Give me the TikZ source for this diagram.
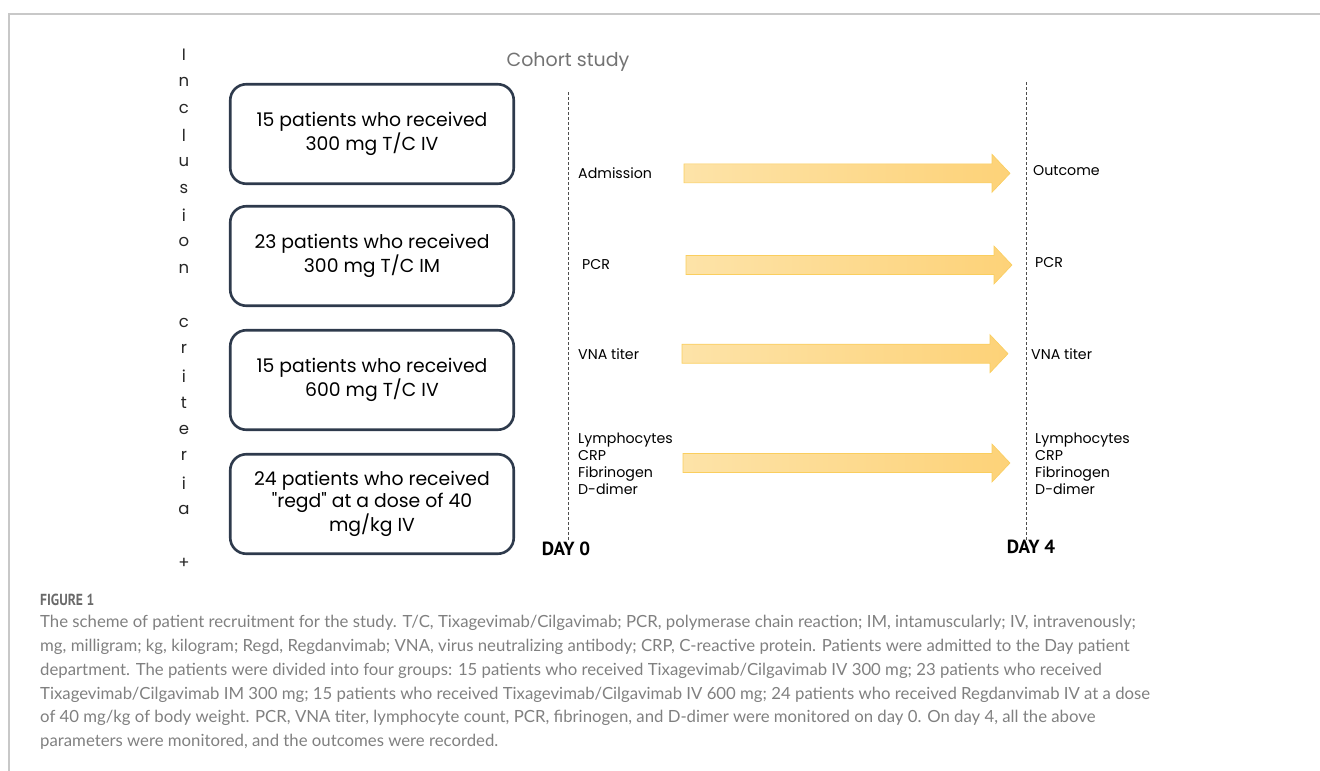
\documentclass[tikz,border=0pt]{standalone}
\usepackage{fontspec}
\setmainfont{Poppins}
\newfontfamily\capfont{Lato}
\newfontfamily\figfont[FakeStretch=0.85]{PT Sans}
\newfontfamily\dayfont{PT Sans}
\usetikzlibrary{positioning,calc}
\definecolor{boxline}{HTML}{2E3A4C}
\definecolor{arrowA}{HTML}{FDE3A8}
\definecolor{arrowB}{HTML}{FDD278}
\definecolor{arrowedge}{HTML}{FACE5E}
\definecolor{framegray}{HTML}{C8C8C8}
\definecolor{captxt}{HTML}{808080}
\definecolor{figtxt}{HTML}{6A6A6A}
\newcommand\fatarrow[2]{% shaft + head between two coordinates
  \shade[fatarrowstyle] ($(#1)+(0,-9.5)$) -- ($(#2)+(-18,-9.5)$) -- ($(#2)+(-18,-19)$)
    -- (#2) -- ($(#2)+(-18,19)$) -- ($(#2)+(-18,9.5)$) -- ($(#1)+(0,9.5)$) -- cycle;}
\begin{document}
\begin{tikzpicture}[x=1pt,y=-1pt,
    group/.style={draw=boxline,line width=2.6pt,rounded corners=16pt,
      minimum width=283.5pt,minimum height=99.5pt,align=center,inner sep=0pt,
      font=\fontsize{18.8}{22.5}\selectfont},
    letter/.style={font=\fontsize{16.5}{16.5}\selectfont,inner sep=0pt,text=black!85},
    lab/.style={anchor=west,align=left,inner sep=0pt,
      font=\fontsize{14.2}{17}\selectfont},
    daylab/.style={font=\dayfont\bfseries\fontsize{19}{19}\selectfont,inner sep=0pt},
    timeline/.style={draw=black!70,line width=0.7pt,dash pattern=on 3pt off 2pt},
    fatarrowstyle/.style={left color=arrowA,right color=arrowB,draw=arrowedge,line width=0.6pt},
    capline/.style={anchor=west,inner sep=0pt,text=captxt,
      font=\capfont\fontsize{16.75}{16.75}\selectfont}]
  \useasboundingbox (0,0) rectangle (1320,771);
  \draw[framegray,line width=1.2pt] (9,771) -- (9,14) -- (1320,14);   % page frame

  % vertical "Inclusion criteria +"
  \foreach \ch [count=\i] in {I,n,c,l,u,s,i,o,n,{},c,r,i,t,e,r,i,a,{},+}
    \node[letter] (inc\i) at (184,{55+(\i-1)*26.75}) {\ch};

  % groups
  \node[group] (g1) at (372,134) {15 patients who received\\300 mg T/C IV};
  \node[group] (g2) at (372,256) {23 patients who received\\300 mg T/C IM};
  \node[group] (g3) at (372,380) {15 patients who received\\600 mg T/C IV};
  \node[group] (g4) at (372,504) {24 patients who received\\\textquotedbl regd\textquotedbl\ at a dose of 40\\mg/kg IV};

  \node[text=black!55,font=\fontsize{19}{19}\selectfont] (cohort) at (568,62) {Cohort study};

  % time lines
  \node[daylab] (day0) at (566,549) {DAY 0};
  \node[daylab] (day4) at (1031,547) {DAY 4};
  \coordinate (top0) at (568,92);
  \coordinate (top4) at (1026,82);
  \draw[timeline] (top0) -- (top0 |- day0.north);
  \draw[timeline] (top4) -- (top4 |- day4.north);

  % day 0 labels
  \node[lab] (adm) at (578,173) {Admission};
  \node[lab] (pcr0) at (582,265) {PCR};
  \node[lab] (vna0) at (578,354) {VNA titer};
  \node[lab] (lab0) at (578,463.5) {Lymphocytes\\CRP\\Fibrinogen\\D-dimer};

  % day 4 labels
  \node[lab] (out) at (1033,171) {Outcome};
  \node[lab] (pcr4) at (1035,263) {PCR};
  \node[lab] (vna4) at (1031,354) {VNA titer};
  \node[lab] (lab4) at (1035,463.5) {Lymphocytes\\CRP\\Fibrinogen\\D-dimer};

  % arrows
  \coordinate (a1s) at (684,173.3);   \coordinate (a1e) at (1010,173.3);
  \coordinate (a2s) at (686,265);     \coordinate (a2e) at (1012,265);
  \coordinate (a3s) at (682,353.7);   \coordinate (a3e) at (1008,353.7);
  \coordinate (a4s) at (683,463);     \coordinate (a4e) at (1010,463);
  \fatarrow{a1s}{a1e}
  \fatarrow{a2s}{a2e}
  \fatarrow{a3s}{a3e}
  \fatarrow{a4s}{a4e}

  % caption
  \node[anchor=west,inner sep=0pt,text=figtxt,font=\figfont\bfseries\fontsize{16}{16}\selectfont] (fig) at (40,600) {FIGURE 1};
  \node[capline] (c1) at (40,623) {The scheme of patient recruitment for the study. T/C, Tixagevimab/Cilgavimab; PCR, polymerase chain reaction; IM, intamuscularly; IV, intravenously;};
  \node[capline] (c2) at (40,646.8) {mg, milligram; kg, kilogram; Regd, Regdanvimab; VNA, virus neutralizing antibody; CRP, C-reactive protein. Patients were admitted to the Day patient};
  \node[capline] (c3) at (40,670.6) {department. The patients were divided into four groups: 15 patients who received Tixagevimab/Cilgavimab IV 300 mg; 23 patients who received};
  \node[capline] (c4) at (40,694.4) {Tixagevimab/Cilgavimab IM 300 mg; 15 patients who received Tixagevimab/Cilgavimab IV 600 mg; 24 patients who received Regdanvimab IV at a dose};
  \node[capline] (c5) at (40,718.2) {of 40 mg/kg of body weight. PCR, VNA titer, lymphocyte count, PCR, fibrinogen, and D-dimer were monitored on day 0. On day 4, all the above};
  \node[capline] (c6) at (40,742) {parameters were monitored, and the outcomes were recorded.};
\end{tikzpicture}
\end{document}
